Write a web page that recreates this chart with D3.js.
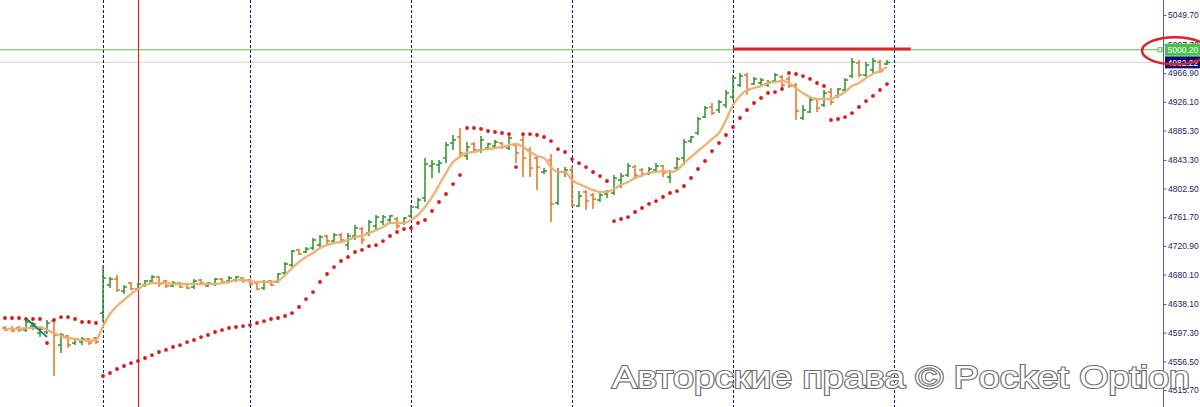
<!DOCTYPE html>
<html>
	<head>
		<meta charset="utf-8">
		<style type="text/css">
			body { margin: 0; background: #fff; overflow: hidden; }
			svg { display: block; }
		</style>
		<title>Chart</title>
	</head>
	<body>
		<div id="chart"></div>

		<script src="https://cdn.jsdelivr.net/npm/d3@7"></script>
		<script>

		// bar data, index 0 = left most bar
		var opens = [
			4604.0, 4602.5, 4604.0, 4601.1, 4606.8, 4596.8, 4598.3, 4613.9, 4579.7, 4592.6,
			4582.6, 4584.0, 4588.3, 4589.7, 4625.3, 4665.2, 4673.7, 4656.6, 4668.0, 4659.5,
			4665.2, 4670.9, 4676.6, 4670.9, 4663.8, 4668.0, 4666.6, 4662.3, 4672.3, 4663.8,
			4666.6, 4673.7, 4670.9, 4672.3, 4675.2, 4672.3, 4668.0, 4660.9, 4670.9, 4669.5,
			4682.3, 4693.7, 4715.1, 4712.2, 4717.9, 4722.1, 4735.0, 4727.8, 4736.4, 4722.1,
			4735.0, 4744.9, 4739.2, 4749.2, 4754.9, 4757.8, 4759.2, 4753.5, 4763.5, 4776.3,
			4789.1, 4834.7, 4836.1, 4846.1, 4867.4, 4876.0, 4848.9, 4866.0, 4857.5, 4860.3,
			4863.1, 4867.4, 4860.3, 4864.5, 4871.7, 4857.5, 4846.1, 4826.1, 4843.2, 4782.0,
			4826.1, 4829.0, 4777.7, 4797.6, 4793.3, 4786.3, 4794.8, 4796.2, 4814.7, 4821.8,
			4833.2, 4829.0, 4823.3, 4829.0, 4834.7, 4819.0, 4831.8, 4846.1, 4870.2, 4881.7,
			4904.4, 4918.7, 4914.4, 4921.5, 4932.9, 4950.0, 4964.3, 4951.4, 4952.9, 4950.0,
			4955.7, 4961.4, 4958.6, 4950.0, 4903.0, 4911.6, 4930.1, 4921.5, 4940.0, 4934.4,
			4942.9, 4962.8, 4981.4, 4964.3, 4971.4, 4982.8, 4979.9
		];
		var highs = [
			4606.8, 4606.8, 4606.8, 4615.4, 4612.5, 4605.4, 4615.4, 4615.4, 4596.8, 4594.0,
			4589.7, 4591.1, 4589.7, 4591.1, 4692.3, 4676.6, 4679.4, 4665.2, 4669.5, 4668.0,
			4672.3, 4679.4, 4678.0, 4672.3, 4670.9, 4669.5, 4668.0, 4673.7, 4673.7, 4669.5,
			4675.2, 4675.2, 4678.0, 4678.0, 4676.6, 4673.7, 4669.5, 4672.3, 4672.3, 4682.3,
			4698.0, 4715.1, 4716.4, 4719.3, 4732.1, 4736.4, 4736.4, 4739.2, 4739.2, 4739.2,
			4750.6, 4747.8, 4757.8, 4764.9, 4764.9, 4764.9, 4762.0, 4762.0, 4779.1, 4789.1,
			4846.1, 4843.2, 4843.2, 4868.8, 4878.8, 4888.8, 4868.8, 4868.8, 4877.4, 4867.4,
			4871.7, 4868.8, 4878.8, 4867.4, 4880.2, 4861.7, 4850.3, 4831.8, 4851.8, 4831.8,
			4833.2, 4836.1, 4799.0, 4800.5, 4796.2, 4796.2, 4800.5, 4821.8, 4824.7, 4838.9,
			4836.1, 4831.8, 4833.2, 4838.9, 4836.1, 4829.0, 4847.5, 4873.1, 4877.4, 4904.4,
			4920.1, 4924.4, 4928.7, 4942.9, 4964.3, 4967.1, 4967.1, 4961.4, 4960.0, 4957.1,
			4967.1, 4964.3, 4962.8, 4952.9, 4921.5, 4932.9, 4931.5, 4942.9, 4945.7, 4945.7,
			4960.0, 4988.5, 4985.6, 4982.8, 4988.5, 4985.6, 4985.6
		];
		var lows = [
			4599.7, 4598.3, 4598.3, 4598.3, 4601.1, 4591.1, 4595.4, 4535.7, 4568.4, 4575.5,
			4579.7, 4579.7, 4579.7, 4581.2, 4612.5, 4660.9, 4655.2, 4652.4, 4658.1, 4658.1,
			4662.3, 4668.0, 4662.3, 4660.9, 4662.3, 4660.9, 4659.5, 4659.5, 4665.2, 4662.3,
			4663.8, 4668.0, 4668.0, 4669.5, 4668.0, 4663.8, 4658.1, 4658.1, 4663.8, 4668.0,
			4679.4, 4690.8, 4707.9, 4710.8, 4715.1, 4719.3, 4723.6, 4725.0, 4726.4, 4715.1,
			4729.3, 4723.6, 4735.0, 4743.5, 4750.6, 4753.5, 4744.9, 4750.6, 4760.6, 4773.4,
			4783.4, 4817.6, 4824.7, 4838.9, 4857.5, 4847.5, 4843.2, 4853.2, 4853.2, 4857.5,
			4858.8, 4858.8, 4857.5, 4838.9, 4819.0, 4819.0, 4800.5, 4823.3, 4754.9, 4779.1,
			4819.0, 4776.3, 4776.3, 4772.0, 4773.4, 4783.4, 4789.1, 4793.3, 4803.3, 4819.0,
			4817.6, 4819.0, 4821.8, 4826.1, 4819.0, 4810.4, 4829.0, 4836.1, 4867.4, 4878.8,
			4903.0, 4907.3, 4910.1, 4917.3, 4928.7, 4947.2, 4935.8, 4950.0, 4950.0, 4947.2,
			4952.9, 4945.7, 4945.7, 4900.2, 4900.2, 4910.1, 4911.6, 4918.7, 4921.5, 4931.5,
			4940.0, 4960.0, 4961.4, 4960.0, 4967.1, 4967.1, 4978.5
		];
		var closes = [
			4601.1, 4599.7, 4601.1, 4612.5, 4609.7, 4602.5, 4611.1, 4594.0, 4594.0, 4579.7,
			4588.3, 4588.3, 4582.6, 4584.0, 4675.2, 4673.7, 4658.1, 4662.3, 4659.5, 4666.6,
			4670.9, 4676.6, 4666.6, 4663.8, 4668.0, 4662.3, 4660.9, 4670.9, 4668.0, 4668.0,
			4673.7, 4669.5, 4675.2, 4676.6, 4670.9, 4666.6, 4659.5, 4669.5, 4665.2, 4680.9,
			4695.1, 4713.6, 4709.4, 4716.4, 4729.3, 4733.5, 4727.8, 4736.4, 4729.3, 4735.0,
			4746.4, 4729.3, 4754.9, 4762.0, 4762.0, 4763.5, 4749.2, 4760.6, 4776.3, 4786.3,
			4837.5, 4837.5, 4838.9, 4864.5, 4871.7, 4853.2, 4861.7, 4857.5, 4871.7, 4866.0,
			4868.8, 4861.7, 4874.5, 4853.2, 4846.1, 4831.8, 4833.2, 4827.5, 4780.6, 4826.1,
			4829.0, 4779.1, 4791.9, 4784.8, 4787.6, 4793.3, 4799.0, 4817.6, 4820.4, 4834.7,
			4821.8, 4823.3, 4830.4, 4834.7, 4824.7, 4826.1, 4844.6, 4868.8, 4876.0, 4901.6,
			4917.3, 4910.1, 4925.8, 4938.6, 4960.0, 4962.8, 4942.9, 4958.6, 4957.1, 4954.3,
			4964.3, 4950.0, 4948.6, 4913.0, 4914.4, 4928.7, 4917.3, 4938.6, 4925.8, 4944.3,
			4957.1, 4982.8, 4964.3, 4978.5, 4984.2, 4970.0, 4982.2
		];
		// moving average
		var maValues = [
			4602.5, 4602.5, 4602.5, 4604.0, 4604.0, 4605.4, 4601.1, 4596.8, 4592.6, 4589.7,
			4588.3, 4586.9, 4585.4, 4586.9, 4606.8, 4623.9, 4635.3, 4643.9, 4652.4, 4659.5,
			4665.2, 4668.0, 4668.0, 4668.0, 4666.6, 4666.6, 4666.6, 4666.6, 4666.6, 4666.6,
			4666.6, 4668.0, 4669.5, 4672.3, 4672.3, 4670.9, 4669.5, 4669.5, 4669.5, 4670.9,
			4679.4, 4689.4, 4698.0, 4705.1, 4710.8, 4717.9, 4722.1, 4725.0, 4726.4, 4729.3,
			4733.5, 4735.0, 4739.2, 4743.5, 4747.8, 4753.5, 4753.5, 4753.5, 4757.8, 4764.9,
			4776.3, 4790.5, 4807.6, 4824.7, 4840.4, 4847.5, 4853.2, 4854.6, 4857.5, 4858.8,
			4860.3, 4861.7, 4864.5, 4866.0, 4861.7, 4854.6, 4848.9, 4846.1, 4833.2, 4826.1,
			4826.1, 4814.7, 4809.0, 4804.7, 4800.5, 4797.6, 4797.6, 4801.9, 4807.6, 4811.9,
			4817.6, 4821.8, 4824.7, 4826.1, 4827.5, 4826.1, 4829.0, 4838.9, 4847.5, 4856.0,
			4864.5, 4873.1, 4881.7, 4900.2, 4921.5, 4934.4, 4942.9, 4945.7, 4948.6, 4952.9,
			4954.3, 4955.7, 4952.9, 4945.7, 4938.6, 4932.9, 4930.1, 4930.1, 4930.1, 4934.4,
			4940.0, 4948.6, 4952.9, 4960.0, 4965.7, 4970.0, 4975.7
		];
		// parabolic SAR dots
		var sarValues = [
			4618.2, 4618.2, 4618.2, 4616.8, 4616.8, 4616.8, 4582.6, 4615.4, 4619.6, 4619.6,
			4616.8, 4612.5, 4612.5, 4611.1, 4535.7, 4539.9, 4545.6, 4549.9, 4554.1, 4557.0,
			4561.3, 4565.5, 4569.8, 4572.7, 4576.9, 4579.7, 4584.0, 4586.9, 4591.1, 4594.0,
			4598.3, 4601.1, 4604.0, 4605.4, 4606.8, 4608.2, 4611.1, 4613.9, 4616.8, 4618.2,
			4621.1, 4625.3, 4633.9, 4645.2, 4655.2, 4669.5, 4680.9, 4690.8, 4699.4, 4705.1,
			4712.2, 4715.1, 4720.7, 4722.1, 4727.8, 4735.0, 4740.7, 4744.9, 4746.4, 4753.5,
			4757.8, 4770.6, 4783.4, 4794.8, 4809.0, 4821.8, 4888.8, 4888.8, 4887.4, 4884.5,
			4883.1, 4881.7, 4880.2, 4833.2, 4880.2, 4880.2, 4878.8, 4876.0, 4870.2, 4858.8,
			4854.6, 4844.6, 4838.9, 4833.2, 4826.1, 4820.4, 4813.3, 4756.3, 4759.2, 4762.0,
			4769.2, 4774.9, 4780.6, 4784.8, 4790.5, 4796.2, 4799.0, 4806.2, 4817.6, 4830.4,
			4841.8, 4856.0, 4867.4, 4878.8, 4890.2, 4903.0, 4914.4, 4924.4, 4931.5, 4938.6,
			4940.0, 4944.3, 4967.1, 4965.7, 4962.8, 4958.6, 4952.9, 4948.6, 4900.2, 4901.6,
			4904.4, 4910.1, 4918.7, 4927.2, 4934.4, 4942.9, 4951.4
		];

		var priceTicks = [5049.70, 5007.70, 4966.90, 4926.10, 4885.30, 4843.30, 4802.50,
			4761.70, 4720.90, 4680.10, 4638.10, 4597.30, 4556.50, 4515.70];
		var separatorIdx = [14, 35, 58, 81, 104, 127];	// day separators (bar index)
		var markerIdx = 19;								// red vertical line
		var bidPrice = 5000.20;
		var askPrice = 4982.22;
		var levelPrice = 5001.3;						// red level line
		var levelRange = [104, 129.4];
		var trendLine = [[3.1, 4616.8], [6, 4591.1]];
		var watermark = "Авторские права © Pocket Option";

		var width = 1200;
		var height = 407;
		var axisX = 1163;
		var labelFont = "'Liberation Sans', Arial, sans-serif";

		var x = d3.scaleLinear().domain([0, 127]).range([5, 894]);
		var y = d3.scaleLinear().domain([4515.7, 5049.7]).range([390, 15]);

		var svg = d3.select("#chart").append("svg")
			.attr("width", width)
			.attr("height", height);

		svg.append("rect").attr("width", width).attr("height", height).attr("fill", "#fff");

		var plot = svg.append("g");

		// ask line (grey) and bid line (green)
		plot.append("line")
			.attr("x1", 0).attr("x2", axisX)
			.attr("y1", y(askPrice)).attr("y2", y(askPrice))
			.attr("stroke", "#d4d4d4");
		plot.append("line")
			.attr("x1", 0).attr("x2", axisX)
			.attr("y1", y(bidPrice)).attr("y2", y(bidPrice))
			.attr("stroke", "#5cbf4c");

		// separators
		plot.selectAll("line.sep")
			.data(separatorIdx)
			.enter().append("line")
				.attr("class", "sep")
				.attr("x1", function(d) { return x(d) + 0.5; })
				.attr("x2", function(d) { return x(d) + 0.5; })
				.attr("y1", 0).attr("y2", height)
				.attr("stroke", "#14147a")
				.attr("stroke-dasharray", "3,2");

		plot.append("line")
			.attr("x1", x(markerIdx) + 0.5).attr("x2", x(markerIdx) + 0.5)
			.attr("y1", 0).attr("y2", height)
			.attr("stroke", "#d8262a")
			.attr("stroke-width", 1.2);

		// bars
		var idx = d3.range(opens.length);
		function barColor(i) { return closes[i] >= opens[i] ? "#2f8f2a" : "#e5731f"; }

		var bars = plot.selectAll("g.bar")
			.data(idx)
			.enter().append("g")
				.attr("class", "bar")
				.attr("stroke", barColor)
				.attr("stroke-width", 1.5);
		bars.append("line")
			.attr("x1", function(i) { return x(i); })
			.attr("x2", function(i) { return x(i); })
			.attr("y1", function(i) { return y(highs[i]); })
			.attr("y2", function(i) { return y(lows[i]); });
		bars.append("line")
			.attr("x1", function(i) { return x(i) - 3; })
			.attr("x2", function(i) { return x(i); })
			.attr("y1", function(i) { return y(opens[i]); })
			.attr("y2", function(i) { return y(opens[i]); });
		bars.append("line")
			.attr("x1", function(i) { return x(i); })
			.attr("x2", function(i) { return x(i) + 3; })
			.attr("y1", function(i) { return y(closes[i]); })
			.attr("y2", function(i) { return y(closes[i]); });

		// moving average
		var maLine = d3.line()
			.x(function(i) { return x(i); })
			.y(function(i) { return y(maValues[i]); })
			.curve(d3.curveMonotoneX);
		plot.append("path")
			.attr("d", maLine(idx))
			.attr("fill", "none")
			.attr("stroke", "#ebb073")
			.attr("stroke-width", 2.4)
			.attr("stroke-opacity", 0.95);

		// SAR
		plot.selectAll("circle.sar")
			.data(idx)
			.enter().append("circle")
				.attr("class", "sar")
				.attr("cx", function(i) { return x(i); })
				.attr("cy", function(i) { return y(sarValues[i]); })
				.attr("r", 1.9)
				.attr("fill", "#dd1515");

		// trend line
		plot.append("line")
			.attr("x1", x(trendLine[0][0])).attr("y1", y(trendLine[0][1]))
			.attr("x2", x(trendLine[1][0])).attr("y2", y(trendLine[1][1]))
			.attr("stroke", "#17857a")
			.attr("stroke-width", 2);

		// red level
		plot.append("line")
			.attr("x1", x(levelRange[0])).attr("x2", x(levelRange[1]))
			.attr("y1", y(levelPrice)).attr("y2", y(levelPrice))
			.attr("stroke", "#e0252a")
			.attr("stroke-width", 3);

		// price axis
		svg.append("line")
			.attr("x1", axisX + 0.5).attr("x2", axisX + 0.5)
			.attr("y1", 0).attr("y2", height)
			.attr("stroke", "#5a5aa8");

		var axis = svg.append("g")
			.attr("transform", "translate(" + (axisX + 0.5) + ",0)")
			.call(d3.axisRight(y).tickValues(priceTicks).tickFormat(d3.format(".2f")).tickSize(3).tickPadding(1.5));
		axis.select(".domain").remove();
		axis.selectAll(".tick line").attr("stroke", "#5a5aa8");
		axis.selectAll(".tick text")
			.attr("fill", "#1c1c60")
			.style("font-family", labelFont)
			.style("font-size", "8.5px");

		// price labels
		var labels = [
			{ price: bidPrice, fill: "#47c247" },
			{ price: askPrice, fill: "#0c0c78" }
		];
		var lab = svg.selectAll("g.plabel")
			.data(labels)
			.enter().append("g")
				.attr("class", "plabel")
				.attr("transform", function(d) { return "translate(" + (axisX + 2) + "," + y(d.price) + ")"; });
		lab.append("rect")
			.attr("x", 0).attr("y", -6)
			.attr("width", 35).attr("height", 12)
			.attr("fill", function(d) { return d.fill; });
		lab.append("text")
			.attr("x", 2.5).attr("y", 3.2)
			.attr("fill", "#fff")
			.style("font-family", labelFont)
			.style("font-size", "8.5px")
			.text(function(d) { return d3.format(".2f")(d.price); });

		svg.append("rect")
			.attr("x", axisX - 5).attr("y", y(bidPrice) - 2)
			.attr("width", 4).attr("height", 4)
			.attr("fill", "#fff")
			.attr("stroke", "#47c247");

		// red ellipse round the label
		svg.append("ellipse")
			.attr("cx", axisX + 12).attr("cy", y(bidPrice) + 1)
			.attr("rx", 33).attr("ry", 13.5)
			.attr("fill", "none")
			.attr("stroke", "#dd2228")
			.attr("stroke-width", 2.5);

		// watermark
		svg.append("text")
			.attr("x", 612).attr("y", 388)
			.attr("textLength", 578)
			.attr("lengthAdjust", "spacingAndGlyphs")
			.attr("fill", "#fff")
			.attr("stroke", "#6e6e6e")
			.attr("stroke-width", 2.2)
			.style("paint-order", "stroke")
			.style("font-family", "'Liberation Sans', Arial, sans-serif")
			.style("font-size", "32px")
			.text(watermark);

		</script>
	</body>
</html>
